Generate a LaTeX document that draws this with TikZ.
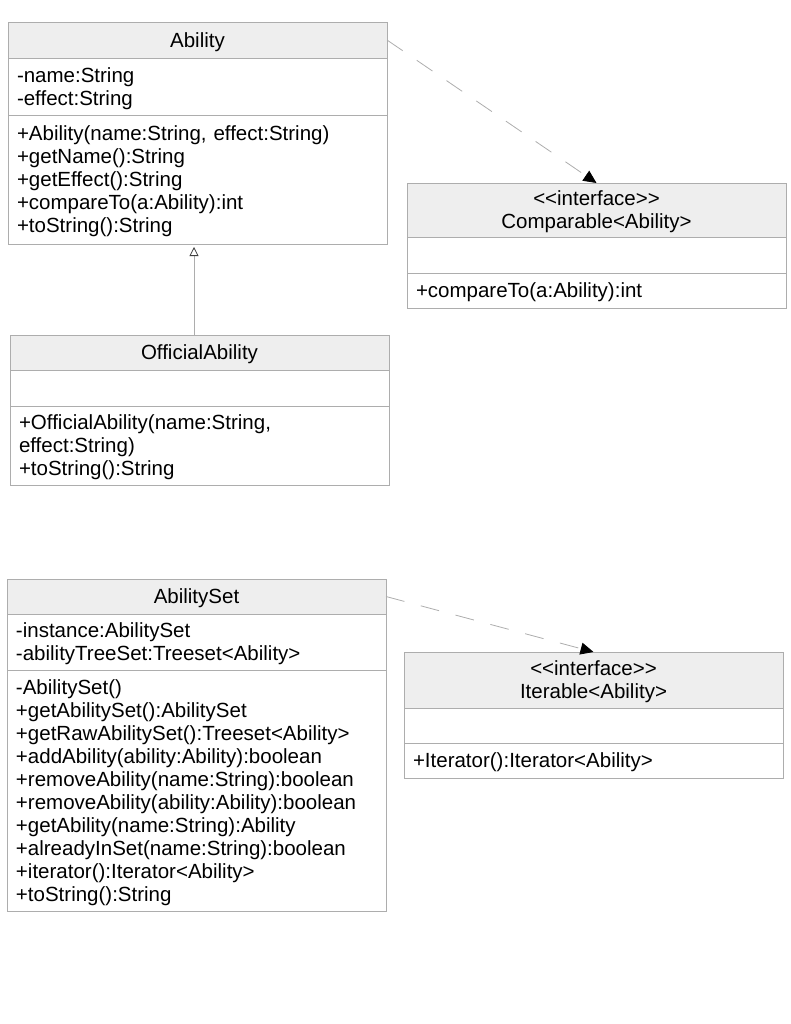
\documentclass[tikz,border=0pt]{standalone}
\usepackage{fontspec}
\setmainfont{Liberation Sans}
\usepackage{tikz}
\usetikzlibrary{arrows.meta, positioning}
\definecolor{umlline}{HTML}{ADADAD}
\definecolor{umlhead}{HTML}{EEEEEE}
\tikzset{
  % UML class compartments
  classhead/.style={rectangle, draw=umlline, fill=umlhead, line width=0.8pt, outer sep=0pt, inner xsep=9pt, inner ysep=0pt, text width=361pt, align=center, font=\fontsize{20.5}{23}\selectfont, execute at begin node={\rule{0pt}{18.5pt}}},
  classpart/.style={rectangle, draw=umlline, fill=white, line width=0.8pt, outer sep=0pt, inner xsep=9pt, inner ysep=0pt, text width=361pt, align=left, font=\fontsize{20.5}{23}\selectfont, execute at begin node={\rule{0pt}{19pt}}},
  % Relations
  depend/.style={draw=umlline, line width=0.8pt, dash pattern=on 19pt off 17pt, -{Triangle[length=13pt, width=12pt, color=black]}},
  inherit/.style={draw=umlline, line width=0.8pt, -{Triangle[open, length=9pt, width=9pt, color=black!75]}},
}
\begin{document}
\begin{tikzpicture}[x=1pt, y=-1pt]
    \useasboundingbox (0,0) rectangle (791,1024);

    % Ability
    \node[classhead, anchor=north west, minimum height=36pt] (ability) at (8,22) {Ability};
    \node[classpart, below=0pt of ability, minimum height=57pt] (ability-attr) {-name:String\\-effect:String};
    \node[classpart, below=0pt of ability-attr, minimum height=129pt] (ability-ops) {+Ability(name:String, effect:String)\\+getName():String\\+getEffect():String\\+compareTo(a:Ability):int\\+toString():String};

    % Comparable
    \node[classhead, anchor=north west, minimum height=54pt] (comparable) at (407,183) {<{}<interface>{}>\\Comparable<Ability>};
    \node[classpart, below=0pt of comparable, minimum height=36pt] (comparable-attr) {};
    \node[classpart, below=0pt of comparable-attr, minimum height=35pt] (comparable-ops) {+compareTo(a:Ability):int};

    % OfficialAbility
    \node[classhead, anchor=north west, minimum height=35pt] (official) at (10,335) {OfficialAbility};
    \node[classpart, below=0pt of official, minimum height=36pt] (official-attr) {};
    \node[classpart, below=0pt of official-attr, minimum height=79pt] (official-ops) {+OfficialAbility(name:String,\\effect:String)\\+toString():String};

    % AbilitySet
    \node[classhead, anchor=north west, minimum height=35pt] (abilityset) at (7,579) {AbilitySet};
    \node[classpart, below=0pt of abilityset, minimum height=56pt] (abilityset-attr) {-instance:AbilitySet\\-abilityTreeSet:Treeset<Ability>};
    \node[classpart, below=0pt of abilityset-attr, minimum height=241pt] (abilityset-ops) {-AbilitySet()\\+getAbilitySet():AbilitySet\\+getRawAbilitySet():Treeset<Ability>\\+addAbility(ability:Ability):boolean\\+removeAbility(name:String):boolean\\+removeAbility(ability:Ability):boolean\\+getAbility(name:String):Ability\\+alreadyInSet(name:String):boolean\\+iterator():Iterator<Ability>\\+toString():String};

    % Iterable
    \node[classhead, anchor=north west, minimum height=56pt] (iterable) at (404,652) {<{}<interface>{}>\\Iterable<Ability>};
    \node[classpart, below=0pt of iterable, minimum height=35pt] (iterable-attr) {};
    \node[classpart, below=0pt of iterable-attr, minimum height=35pt] (iterable-ops) {+Iterator():Iterator<Ability>};

    % Relations
    \draw[depend] (ability.east) -- (comparable.north);
    \draw[depend] (abilityset.east) -- (iterable.north);
    \draw[inherit, shorten >=3pt] ([xshift=-5.5pt]official.north) -- ([xshift=-5.5pt]official.north |- ability-ops.south);
\end{tikzpicture}
\end{document}
